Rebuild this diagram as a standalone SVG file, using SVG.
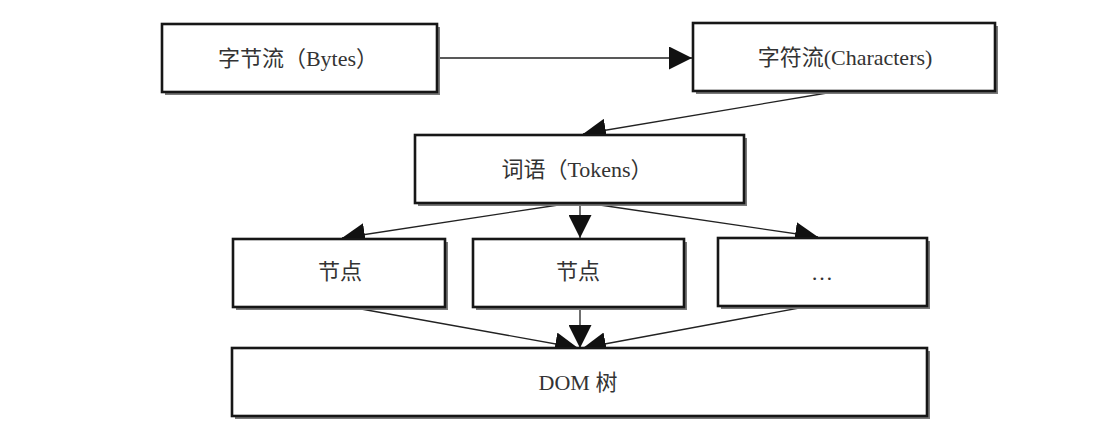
<svg xmlns="http://www.w3.org/2000/svg" width="1096" height="433" viewBox="0 0 1096 433">
  <defs>
    <marker id="arr" viewBox="0 0 10 10" refX="10" refY="5" markerWidth="23" markerHeight="23" markerUnits="userSpaceOnUse" orient="auto">
      <path d="M0,0 L10,5 L0,10 Z" fill="#111"/>
    </marker>
    <filter id="blur" x="-5%" y="-10%" width="110%" height="120%">
      <feGaussianBlur stdDeviation="0.7"/>
    </filter>
  </defs>
  <style>
    .shadow { fill: #7a7a7a; filter: url(#blur); }
    .box { fill: #ffffff; stroke: #161616; stroke-width: 2.6; }
    .label { font-family: "Liberation Serif", "Noto Sans CJK SC", serif; font-size: 22px; fill: #333; text-anchor: middle; dominant-baseline: central; }
    .conn { stroke: #222; stroke-width: 1.3; fill: none; marker-end: url(#arr); }
  </style>
  <rect width="1096" height="433" fill="#ffffff"/>

  <g id="connectors">
    <line class="conn" x1="437" y1="58" x2="692" y2="58"/>
    <line class="conn" x1="833" y1="92" x2="583" y2="134"/>
    <line class="conn" x1="565" y1="204" x2="342" y2="238"/>
    <line class="conn" x1="580" y1="204" x2="580" y2="238"/>
    <line class="conn" x1="593" y1="204" x2="818" y2="237"/>
    <line class="conn" x1="350" y1="307" x2="578" y2="348"/>
    <line class="conn" x1="580" y1="307" x2="580" y2="348"/>
    <line class="conn" x1="810" y1="306" x2="583" y2="348"/>
  </g>

  <g id="node-bytes">
    <rect class="shadow" x="165" y="27" width="275" height="68"/>
    <rect class="box" x="162" y="24" width="275" height="68"/>
    <text class="label" x="298" y="58">字节流（Bytes）</text>
  </g>
  <g id="node-characters">
    <rect class="shadow" x="696" y="26" width="302" height="68"/>
    <rect class="box" x="693" y="23" width="302" height="68"/>
    <text class="label" x="845" y="57">字符流(Characters)</text>
  </g>
  <g id="node-tokens">
    <rect class="shadow" x="418" y="138" width="329" height="68"/>
    <rect class="box" x="415" y="135" width="329" height="68"/>
    <text class="label" x="577" y="169">词语（Tokens）</text>
  </g>
  <g id="node-1">
    <rect class="shadow" x="236" y="242" width="212" height="68"/>
    <rect class="box" x="233" y="239" width="212" height="68"/>
    <text class="label" x="340" y="271">节点</text>
  </g>
  <g id="node-2">
    <rect class="shadow" x="476" y="242" width="211" height="68"/>
    <rect class="box" x="473" y="239" width="211" height="68"/>
    <text class="label" x="578" y="271">节点</text>
  </g>
  <g id="node-3">
    <rect class="shadow" x="721" y="241" width="209" height="68"/>
    <rect class="box" x="718" y="238" width="209" height="68"/>
    <text class="label" x="822" y="272">…</text>
  </g>
  <g id="node-dom">
    <rect class="shadow" x="235" y="351" width="695" height="68"/>
    <rect class="box" x="232" y="348" width="695" height="68"/>
    <text class="label" x="578" y="382">DOM 树</text>
  </g>
</svg>
